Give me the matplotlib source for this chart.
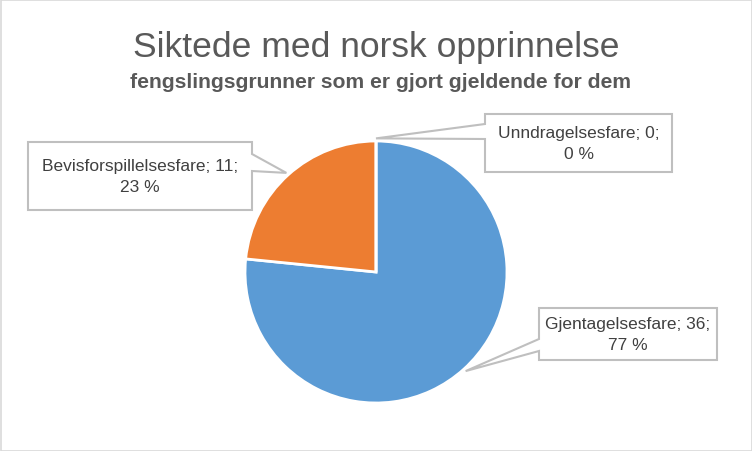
import numpy as np
import matplotlib
import matplotlib.pyplot as plt
from matplotlib import font_manager
from matplotlib.patches import Polygon, Rectangle

# data
labels = ["Gjentagelsesfare", "Bevisforspillelsesfare", "Unndragelsesfare"]
counts = [36, 11, 0]
colors = ["#5B9BD5", "#ED7D31", "#A5A5A5"]
title = "Siktede med norsk opprinnelse"
subtitle = "fengslingsgrunner som er gjort gjeldende for dem"

# pick a narrow-ish font if there is one
names = set(f.name for f in font_manager.fontManager.ttflist)
fam = "Liberation Sans Narrow" if "Liberation Sans Narrow" in names else "Liberation Sans"
plt.rcParams["font.family"] = [fam, "DejaVu Sans"]

W, H = 752, 452
fig = plt.figure(figsize=(W / 100, H / 100), dpi=100)
fig.patch.set_facecolor("white")

def fx(x, y):
    # image pixel (from top-left) -> figure fraction
    return (x / W, 1 - y / H)

# outer border
fig.patches.append(Rectangle((0.5 / W, 0.5 / H), 1 - 1.0 / W, 1 - 1.0 / H,
                             transform=fig.transFigure, fill=False,
                             edgecolor="#D9D9D9", linewidth=1.2))

fig.text(*fx(376, 47), title, ha="center", va="center", fontsize=25.5,
         color="#595959")
fig.text(*fx(381, 83), subtitle, ha="center", va="center", fontsize=15.2,
         fontweight="bold", color="#595959")

cx, cy, r = 376, 273, 131
ax = fig.add_axes([(cx - r) / W, (H - cy - r) / H, 2 * r / W, 2 * r / H])
wedges, _ = ax.pie(counts, colors=colors, startangle=90, counterclock=False,
                   wedgeprops=dict(edgecolor="white", linewidth=2))
ax.set_xlim(-1, 1)
ax.set_ylim(-1, 1)
ax.axis("off")

total = sum(counts)
texts = [f"{l}; {c};\n{round(100 * c / total)} %" for l, c in zip(labels, counts)]

# callout boxes: (left, top, right, bottom), side of the pointer, pointer base
boxes = [
    ((539, 309, 717, 361), "left", (340, 352)),
    ((28, 143, 252, 211), "right", (155, 172)),
    ((485, 115, 672, 173), "left", (125, 140)),
]

fig.canvas.draw()
to_fig = fig.transFigure.inverted()
for w, txt, (box, side, base) in zip(wedges, texts, boxes):
    ang = np.deg2rad((w.theta1 + w.theta2) / 2)
    tip = to_fig.transform(ax.transData.transform((1.02 * np.cos(ang), 1.02 * np.sin(ang))))
    L, T, R, B = box
    if side == "right":
        pts = [fx(L, T), fx(R, T), fx(R, base[0]), tip, fx(R, base[1]), fx(R, B), fx(L, B)]
    else:
        pts = [fx(L, T), fx(R, T), fx(R, B), fx(L, B), fx(L, base[1]), tip, fx(L, base[0])]
    fig.patches.append(Polygon(pts, closed=True, transform=fig.transFigure,
                               facecolor="white", edgecolor="#BFBFBF", linewidth=1.5))
    fig.text(*fx((L + R) / 2, (T + B) / 2), txt, ha="center", va="center",
             fontsize=12.5, color="#404040", linespacing=1.45)

fig.savefig("out.png", dpi=100)
